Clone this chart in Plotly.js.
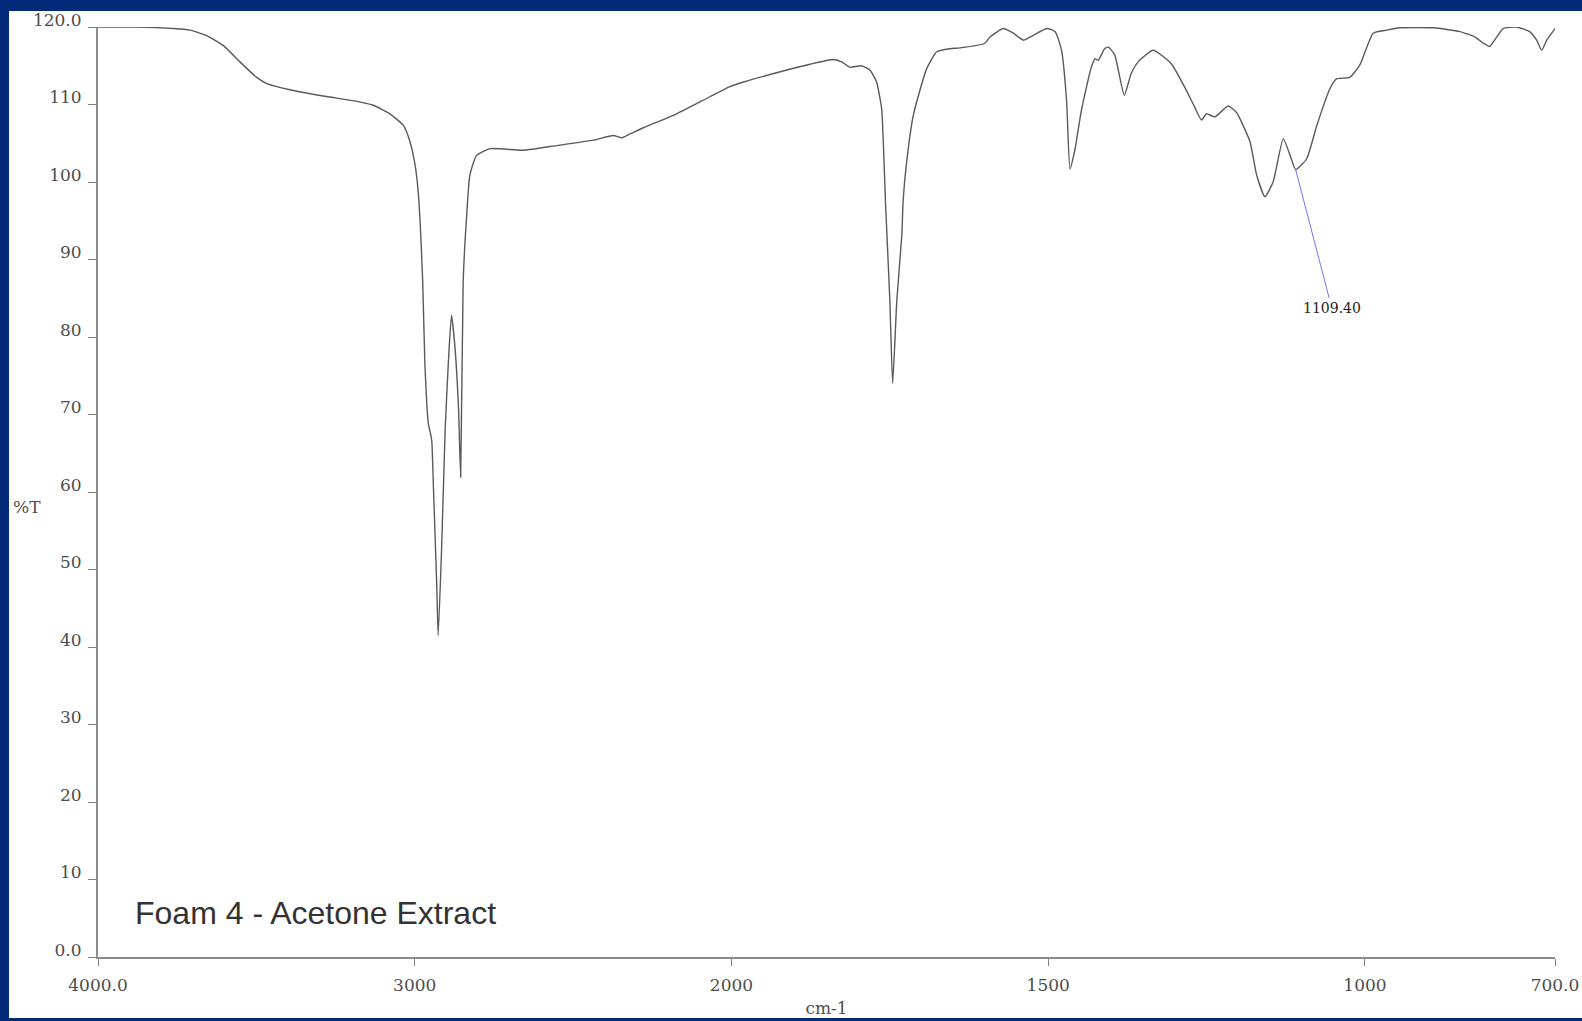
<!DOCTYPE html>
<html><head><meta charset="utf-8">
<script src="https://cdn.plot.ly/plotly-3.0.1.min.js"></script>
<style>
html,body{margin:0;padding:0;background:#022a78;width:1582px;height:1021px;overflow:hidden}
#chart{position:absolute;left:9px;top:11px;width:1573px;height:1007px;background:#fff}
</style></head><body><div id="chart"></div>
<script>
// Wavenumber (cm-1) and %T
const wavenumber = [4000,3880,3762,3710,3657,3604,3552,3499,3467,3394,3289,3183,3131,3078,3036,3015,2999,2989,2975,2968,2957,2950,2946,2941,2931,2926,2915,2904,2894,2884,2873,2862,2855,2847,2836,2826,2805,2762,2657,2552,2436,2373,2347,2320,2278,2173,2068,2005,
1981,1929,1876,1839,1826,1813,1795,1781,1771,1763,1759,1757,1750,1745.6,1739,1731,1729,1724,1713,1692,1676,1655,1639,1600,1592,1571,1555,1539,1524,1502,1489,1479,1471,1465.6,1458,1447.5,1432,1426,1421,1411,1405,1395,1380,1369,1358,1334.5,1306,1285,1269,1258,1250,1237,1216,1203,1181.5,1171,1158,1145,1129,1118,1109.40,1092,1076,1055,1045,1024,1008,987,966,945,892,850,826,813,803,792,782,761,740,729,721,713,700];
const transmittance = [120.0,120.0,119.8,119.6,118.9,117.6,115.5,113.5,112.7,111.9,111.1,110.4,109.9,108.8,107.3,105.2,102.2,98.7,87.3,76.6,68.8,67.5,66.5,60.6,48.6,41.5,52.9,68.0,76.6,82.8,78.7,71.0,61.9,87.3,95.7,100.9,103.4,104.3,104.1,104.7,105.4,106.0,105.7,106.2,107.0,108.8,111.0,112.3,
112.9,114.1,115.2,115.8,115.5,114.8,115.0,114.4,112.9,109.5,102.2,97.6,84.7,74.0,84.7,93.3,97.6,102.2,108.6,114.6,116.8,117.2,117.3,117.9,118.7,119.8,119.2,118.3,118.9,119.8,119.4,117.0,110.5,101.7,104.1,109.3,114.8,115.9,115.7,117.2,117.4,116.4,111.2,114.0,115.5,117.0,115.3,112.3,109.7,108.0,108.8,108.4,109.8,109.0,105.2,100.9,98.1,100.0,105.6,103.4,101.6,103.0,107.3,112.1,113.3,113.5,115.1,119.2,119.6,119.9,119.9,119.4,118.7,117.9,117.5,118.7,119.8,120.0,119.4,118.3,117.0,118.3,119.8];
const xTickValues = [4000,3000,2000,1500,1000,700];
const xTickLabels = ["4000.0","3000","2000","1500","1000","700.0"];
const yTickValues = [0,10,20,30,40,50,60,70,80,90,100,110,120];
const yTickLabels = ["0.0","10","20","30","40","50","60","70","80","90","100","110","120.0"];
const peakWavenumber = 1109.40;
const peakLabel = "1109.40";
const chartLabel = "Foam 4 - Acetone Extract";

// The instrument plots 4000-2000 cm-1 at half the scale of 2000-700 cm-1
function toAxis(wn){ return wn > 2000 ? 2000 + (wn - 2000) / 2 : wn; }

const peakIndex = wavenumber.indexOf(peakWavenumber);

const trace = {
  x: wavenumber.map(toAxis),
  y: transmittance,
  customdata: wavenumber,
  type: 'scatter', mode: 'lines',
  line: {color: '#5a5a5a', width: 1.4, shape: 'spline', smoothing: 0.5},
  hovertemplate: '%{customdata} cm-1<br>%{y} %T<extra></extra>',
  showlegend: false
};

const tickFont = {family: 'DejaVu Serif, serif', size: 17, color: '#4d4d4d'};

const layout = {
  width: 1573, height: 1007,
  margin: {l: 89, r: 27, t: 16, b: 61},
  paper_bgcolor: '#ffffff', plot_bgcolor: '#ffffff',
  showlegend: false,
  xaxis: {
    range: [toAxis(4000), toAxis(700)],
    tickmode: 'array', tickvals: xTickValues.map(toAxis), ticktext: xTickLabels,
    ticks: 'outside', ticklen: 7, tickwidth: 1, tickcolor: '#808080',
    ticklabelstandoff: 5, ticklabeloverflow: 'allow',
    showline: true, linecolor: '#8c8c8c', linewidth: 2,
    showgrid: false, zeroline: false,
    tickfont: tickFont,
    title: {text: 'cm-1', font: {family: 'DejaVu Serif, serif', size: 17, color: '#4d4d4d'}, standoff: 15},
    automargin: false
  },
  yaxis: {
    range: [0, 120],
    tickmode: 'array', tickvals: yTickValues, ticktext: yTickLabels,
    ticks: 'outside', ticklen: 8, tickwidth: 1, tickcolor: '#808080',
    ticklabelshift: -7, ticklabelstandoff: 3, ticklabeloverflow: 'allow',
    showline: true, linecolor: '#8c8c8c', linewidth: 2,
    showgrid: false, zeroline: false,
    tickfont: tickFont,
    automargin: false
  },
  annotations: [
    {
      x: toAxis(peakWavenumber), y: transmittance[peakIndex], xref: 'x', yref: 'y',
      text: peakLabel, showarrow: true, arrowhead: 0, arrowwidth: 1, arrowcolor: '#7474ee',
      ax: 36, ay: 138, standoff: 0,
      font: {family: 'DejaVu Serif, serif', size: 14, color: '#222222'}
    },
    {
      x: 0.024, y: 0.0475, xref: 'paper', yref: 'paper', xanchor: 'left', yanchor: 'middle',
      text: chartLabel, showarrow: false,
      font: {family: 'Liberation Sans, Arial, sans-serif', size: 32, color: '#333333'}
    },
    {
      x: -0.0377, y: 0.484, xref: 'paper', yref: 'paper', xanchor: 'right', yanchor: 'middle',
      text: '%T', showarrow: false,
      font: {family: 'DejaVu Serif, serif', size: 17, color: '#4d4d4d'}
    }
  ]
};

Plotly.newPlot('chart', [trace], layout, {displayModeBar: false});
</script></body></html>
